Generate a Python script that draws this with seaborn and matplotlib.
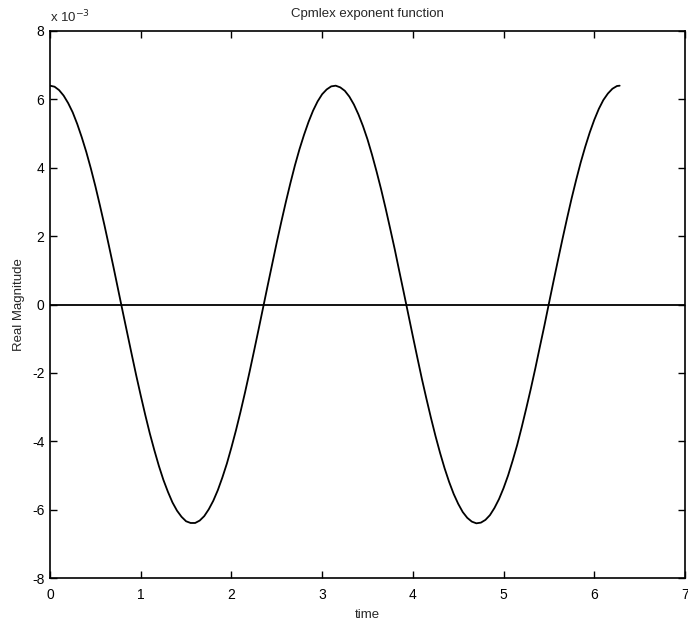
import matplotlib
matplotlib.use("Agg")
import matplotlib.pyplot as plt
import seaborn as sns
import pandas as pd

# Sampled real part of the complex exponential (values in units of 1e-3)
time = [0.00, 0.05, 0.10, 0.15, 0.20, 0.25, 0.30, 0.35, 0.40, 0.45,
        0.50, 0.55, 0.60, 0.65, 0.70, 0.75, 0.80, 0.85, 0.90, 0.95,
        1.00, 1.05, 1.10, 1.15, 1.20, 1.25, 1.30, 1.35, 1.40, 1.45,
        1.50, 1.55, 1.60, 1.65, 1.70, 1.75, 1.80, 1.85, 1.90, 1.95,
        2.00, 2.05, 2.10, 2.15, 2.20, 2.25, 2.30, 2.35, 2.40, 2.45,
        2.50, 2.55, 2.60, 2.65, 2.70, 2.75, 2.80, 2.85, 2.90, 2.95,
        3.00, 3.05, 3.10, 3.15, 3.20, 3.25, 3.30, 3.35, 3.40, 3.45,
        3.50, 3.55, 3.60, 3.65, 3.70, 3.75, 3.80, 3.85, 3.90, 3.95,
        4.00, 4.05, 4.10, 4.15, 4.20, 4.25, 4.30, 4.35, 4.40, 4.45,
        4.50, 4.55, 4.60, 4.65, 4.70, 4.75, 4.80, 4.85, 4.90, 4.95,
        5.00, 5.05, 5.10, 5.15, 5.20, 5.25, 5.30, 5.35, 5.40, 5.45,
        5.50, 5.55, 5.60, 5.65, 5.70, 5.75, 5.80, 5.85, 5.90, 5.95,
        6.00, 6.05, 6.10, 6.15, 6.20, 6.25, 6.28]
real_mag = [6.40, 6.37, 6.27, 6.11, 5.89, 5.62, 5.28, 4.89, 4.46, 3.98,
            3.46, 2.90, 2.32, 1.71, 1.09, 0.45, -0.19, -0.82, -1.45, -2.07,
            -2.66, -3.23, -3.77, -4.26, -4.72, -5.13, -5.48, -5.79, -6.03, -6.21,
            -6.34, -6.39, -6.39, -6.32, -6.19, -5.99, -5.74, -5.43, -5.06, -4.65,
            -4.18, -3.68, -3.14, -2.57, -1.97, -1.35, -0.72, -0.08, 0.56, 1.19,
            1.82, 2.42, 3.00, 3.55, 4.07, 4.54, 4.96, 5.34, 5.67, 5.94,
            6.15, 6.29, 6.38, 6.40, 6.35, 6.25, 6.08, 5.85, 5.56, 5.22,
            4.83, 4.38, 3.89, 3.37, 2.81, 2.22, 1.62, 0.98, 0.35, -0.29,
            -0.93, -1.56, -2.18, -2.76, -3.32, -3.85, -4.34, -4.79, -5.19, -5.54,
            -5.83, -6.07, -6.24, -6.35, -6.40, -6.38, -6.30, -6.16, -5.95, -5.69,
            -5.37, -5.00, -4.57, -4.11, -3.59, -3.04, -2.47, -1.87, -1.24, -0.62,
            0.03, 0.67, 1.30, 1.92, 2.52, 3.10, 3.64, 4.15, 4.61, 5.03,
            5.40, 5.72, 5.98, 6.17, 6.31, 6.39, 6.40]
baseline = 0.0

x_ticks = [0, 1, 2, 3, 4, 5, 6, 7]
y_ticks = [-8, -6, -4, -2, 0, 2, 4, 6, 8]

sns.set_theme(style="white")
plt.rcParams["font.family"] = ["Liberation Sans", "DejaVu Sans"]
plt.rcParams["font.size"] = 10

fig = plt.figure(figsize=(6.88, 6.22), dpi=100)
ax = fig.add_axes([0.0727, 0.0707, 0.9229, 0.8795])

df = pd.DataFrame({"time": time, "value": real_mag})
sns.lineplot(data=df, x="time", y="value", ax=ax, color="black",
             linewidth=1.3, sort=False)
ax.axhline(baseline, color="black", linewidth=1.3)

ax.set_xlim(0, 7)
ax.set_ylim(-8, 8)
ax.set_xticks(x_ticks)
ax.set_yticks(y_ticks)
ax.set_xticklabels([str(v) for v in x_ticks])
ax.set_yticklabels([str(v) for v in y_ticks])

ax.tick_params(direction="in", length=5, width=1, colors="black",
               top=True, right=True, bottom=True, left=True,
               labelsize=10)
ax.tick_params(axis="x", pad=7.5)
ax.tick_params(axis="y", pad=4)
for side in ax.spines.values():
    side.set_color("black")
    side.set_linewidth(1.2)

ax.set_xlabel("time", fontsize=9.5, labelpad=5)
ax.set_ylabel("Real Magnitude", fontsize=9.5, labelpad=5)
ax.set_title("Cpmlex exponent function", fontsize=9.5, pad=10)
ax.text(0.0, 1.01, r"x 10$^{-3}$", transform=ax.transAxes,
        ha="left", va="bottom", fontsize=9.5)

fig.savefig("out.png", dpi=100, facecolor="white")
